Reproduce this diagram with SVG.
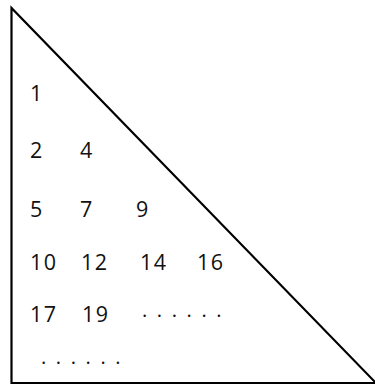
<svg xmlns="http://www.w3.org/2000/svg" width="375" height="385" viewBox="0 0 375 385">
<style>
.t{font-family:"Open Sans","Liberation Sans",sans-serif;font-size:21.5px;fill:#111;letter-spacing:1.5px}
.d{font-family:"Open Sans","Liberation Sans",sans-serif;font-size:20px;fill:#111;letter-spacing:9.6px}
</style>
<rect width="375" height="385" fill="#fff"/>
<g id="triangle">
<polygon points="11.5,8 11.5,383 376,383" fill="none" stroke="#000" stroke-width="2.2"/>
</g>
<g id="numbers">
<text class="t" x="30" y="101">1</text>
<text class="t" x="30" y="158">2</text>
<text class="t" x="80" y="158">4</text>
<text class="t" x="30" y="217">5</text>
<text class="t" x="80" y="217">7</text>
<text class="t" x="136" y="217">9</text>
<text class="t" x="30" y="270">10</text>
<text class="t" x="81" y="270">12</text>
<text class="t" x="140" y="270">14</text>
<text class="t" x="197" y="270">16</text>
<text class="t" x="30" y="322">17</text>
<text class="t" x="82" y="322">19</text>
<text class="d" x="142" y="317">......</text>
<text class="d" x="41" y="364">......</text>
</g>
</svg>
